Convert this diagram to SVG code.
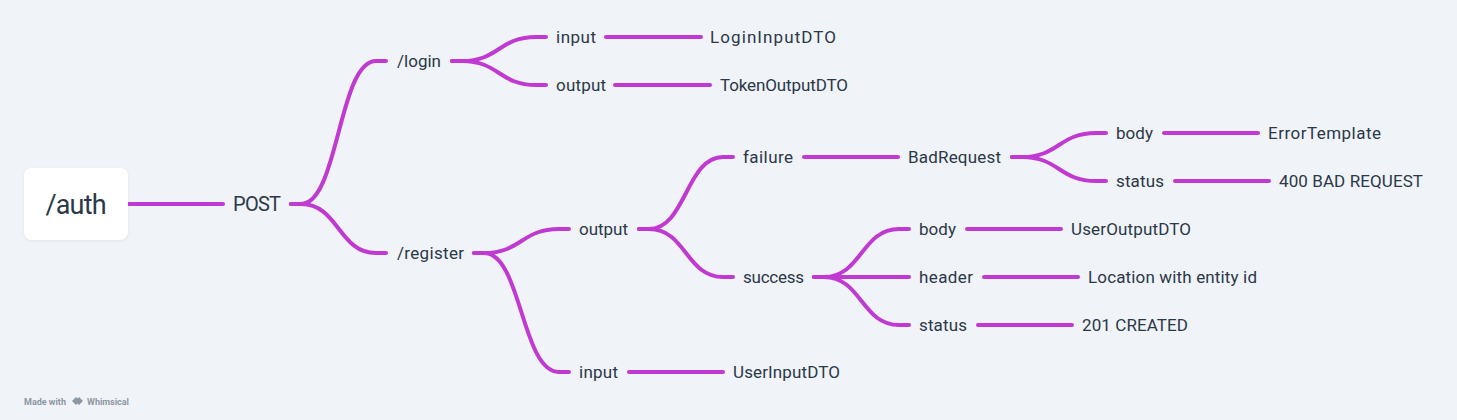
<svg xmlns="http://www.w3.org/2000/svg" width="1457" height="420" viewBox="0 0 1457 420">
<defs>
<style>
.c{fill:none;stroke:#c03ad2;stroke-width:4;stroke-linecap:round;stroke-linejoin:round}
.t{font-family:Roboto,"Liberation Sans",sans-serif;font-size:17px;fill:#2b3848}
.wm{font-family:Roboto,"Liberation Sans",sans-serif;font-size:9px;font-weight:700;fill:#8c97a4}
</style>
<filter id="sh" x="-20%" y="-20%" width="140%" height="150%">
<feDropShadow dx="0" dy="1" stdDeviation="1.5" flood-color="#8090a0" flood-opacity="0.15"/>
</filter>
</defs>
<rect width="1457" height="420" fill="#f0f3f7"/>
<g id="connectors">
<path class="c" d="M128 204 H223"/>
<path class="c" d="M291 204 H301 C338.5 204 338.5 61 376 61 H386"/>
<path class="c" d="M291 204 H301 C338.5 204 338.5 253 376 253 H386"/>
<path class="c" d="M452 61 H462 C499 61 499 37 536 37 H546"/>
<path class="c" d="M452 61 H462 C499 61 499 85 536 85 H546"/>
<path class="c" d="M606 37 H701"/>
<path class="c" d="M615 85 H710"/>
<path class="c" d="M474 253 H484 C521.5 253 521.5 229 559 229 H569"/>
<path class="c" d="M474 253 H484 C521.5 253 521.5 372 559 372 H569"/>
<path class="c" d="M629 372 H723"/>
<path class="c" d="M639 229 H649 C686 229 686 157 723 157 H733"/>
<path class="c" d="M639 229 H649 C686 229 686 277 723 277 H733"/>
<path class="c" d="M804 157 H898"/>
<path class="c" d="M1012 157 H1022 C1059 157 1059 133 1096 133 H1106"/>
<path class="c" d="M1012 157 H1022 C1059 157 1059 181 1096 181 H1106"/>
<path class="c" d="M1164 133 H1258"/>
<path class="c" d="M1175 181 H1269"/>
<path class="c" d="M814 277 H824 C861.5 277 861.5 229 899 229 H909"/>
<path class="c" d="M814 277 H909"/>
<path class="c" d="M814 277 H824 C861.5 277 861.5 325 899 325 H909"/>
<path class="c" d="M967 229 H1061"/>
<path class="c" d="M984 277 H1078"/>
<path class="c" d="M978 325 H1072"/>
</g>
<g id="root">
<rect x="24" y="168" width="104" height="72" rx="8" fill="#ffffff" filter="url(#sh)"/>
<text x="76" y="214" text-anchor="middle" font-family="Roboto,'Liberation Sans',sans-serif" font-size="27" fill="#2b3848" textLength="61">/auth</text>
</g>
<g id="post"><text class="t" x="233" y="211" style="font-size:20px" textLength="48">POST</text></g>
<g id="login"><text class="t" x="397" y="67" textLength="44">/login</text></g>
<g id="register"><text class="t" x="397" y="259" textLength="67">/register</text></g>
<g id="login-input"><text class="t" x="556" y="43" textLength="40">input</text></g>
<g id="login-output"><text class="t" x="556" y="91" textLength="50">output</text></g>
<g id="login-input-dto"><text class="t" x="710" y="43" textLength="126">LoginInputDTO</text></g>
<g id="token-output-dto"><text class="t" x="720" y="91" textLength="128">TokenOutputDTO</text></g>
<g id="register-output"><text class="t" x="579" y="235" textLength="49">output</text></g>
<g id="register-input"><text class="t" x="579" y="378" textLength="39">input</text></g>
<g id="user-input-dto"><text class="t" x="733" y="378" textLength="107">UserInputDTO</text></g>
<g id="failure"><text class="t" x="743" y="163" textLength="50">failure</text></g>
<g id="success"><text class="t" x="743" y="283" textLength="61">success</text></g>
<g id="bad-request"><text class="t" x="908" y="163" textLength="93">BadRequest</text></g>
<g id="failure-body"><text class="t" x="1116" y="139" textLength="37">body</text></g>
<g id="failure-status"><text class="t" x="1116" y="187" textLength="48">status</text></g>
<g id="error-template"><text class="t" x="1268" y="139" textLength="113">ErrorTemplate</text></g>
<g id="bad-request-status"><text class="t" x="1279" y="187" textLength="144">400 BAD REQUEST</text></g>
<g id="success-body"><text class="t" x="919" y="235" textLength="37">body</text></g>
<g id="success-header"><text class="t" x="919" y="283" textLength="54">header</text></g>
<g id="success-status"><text class="t" x="919" y="331" textLength="48">status</text></g>
<g id="user-output-dto"><text class="t" x="1071" y="235" textLength="120">UserOutputDTO</text></g>
<g id="location"><text class="t" x="1088" y="283" textLength="169">Location with entity id</text></g>
<g id="created"><text class="t" x="1082" y="331" textLength="106">201 CREATED</text></g>
<g id="watermark">
<text class="wm" x="24" y="404.5">Made with</text>
<path d="M72 401 L76 397 L78 399 L76 401 L78 403 L76 405 Z M79 397 L83 401 L79 405 L75 401 Z" fill="#8c97a4"/>
<text class="wm" x="87" y="404.5">Whimsical</text>
</g>
</svg>
